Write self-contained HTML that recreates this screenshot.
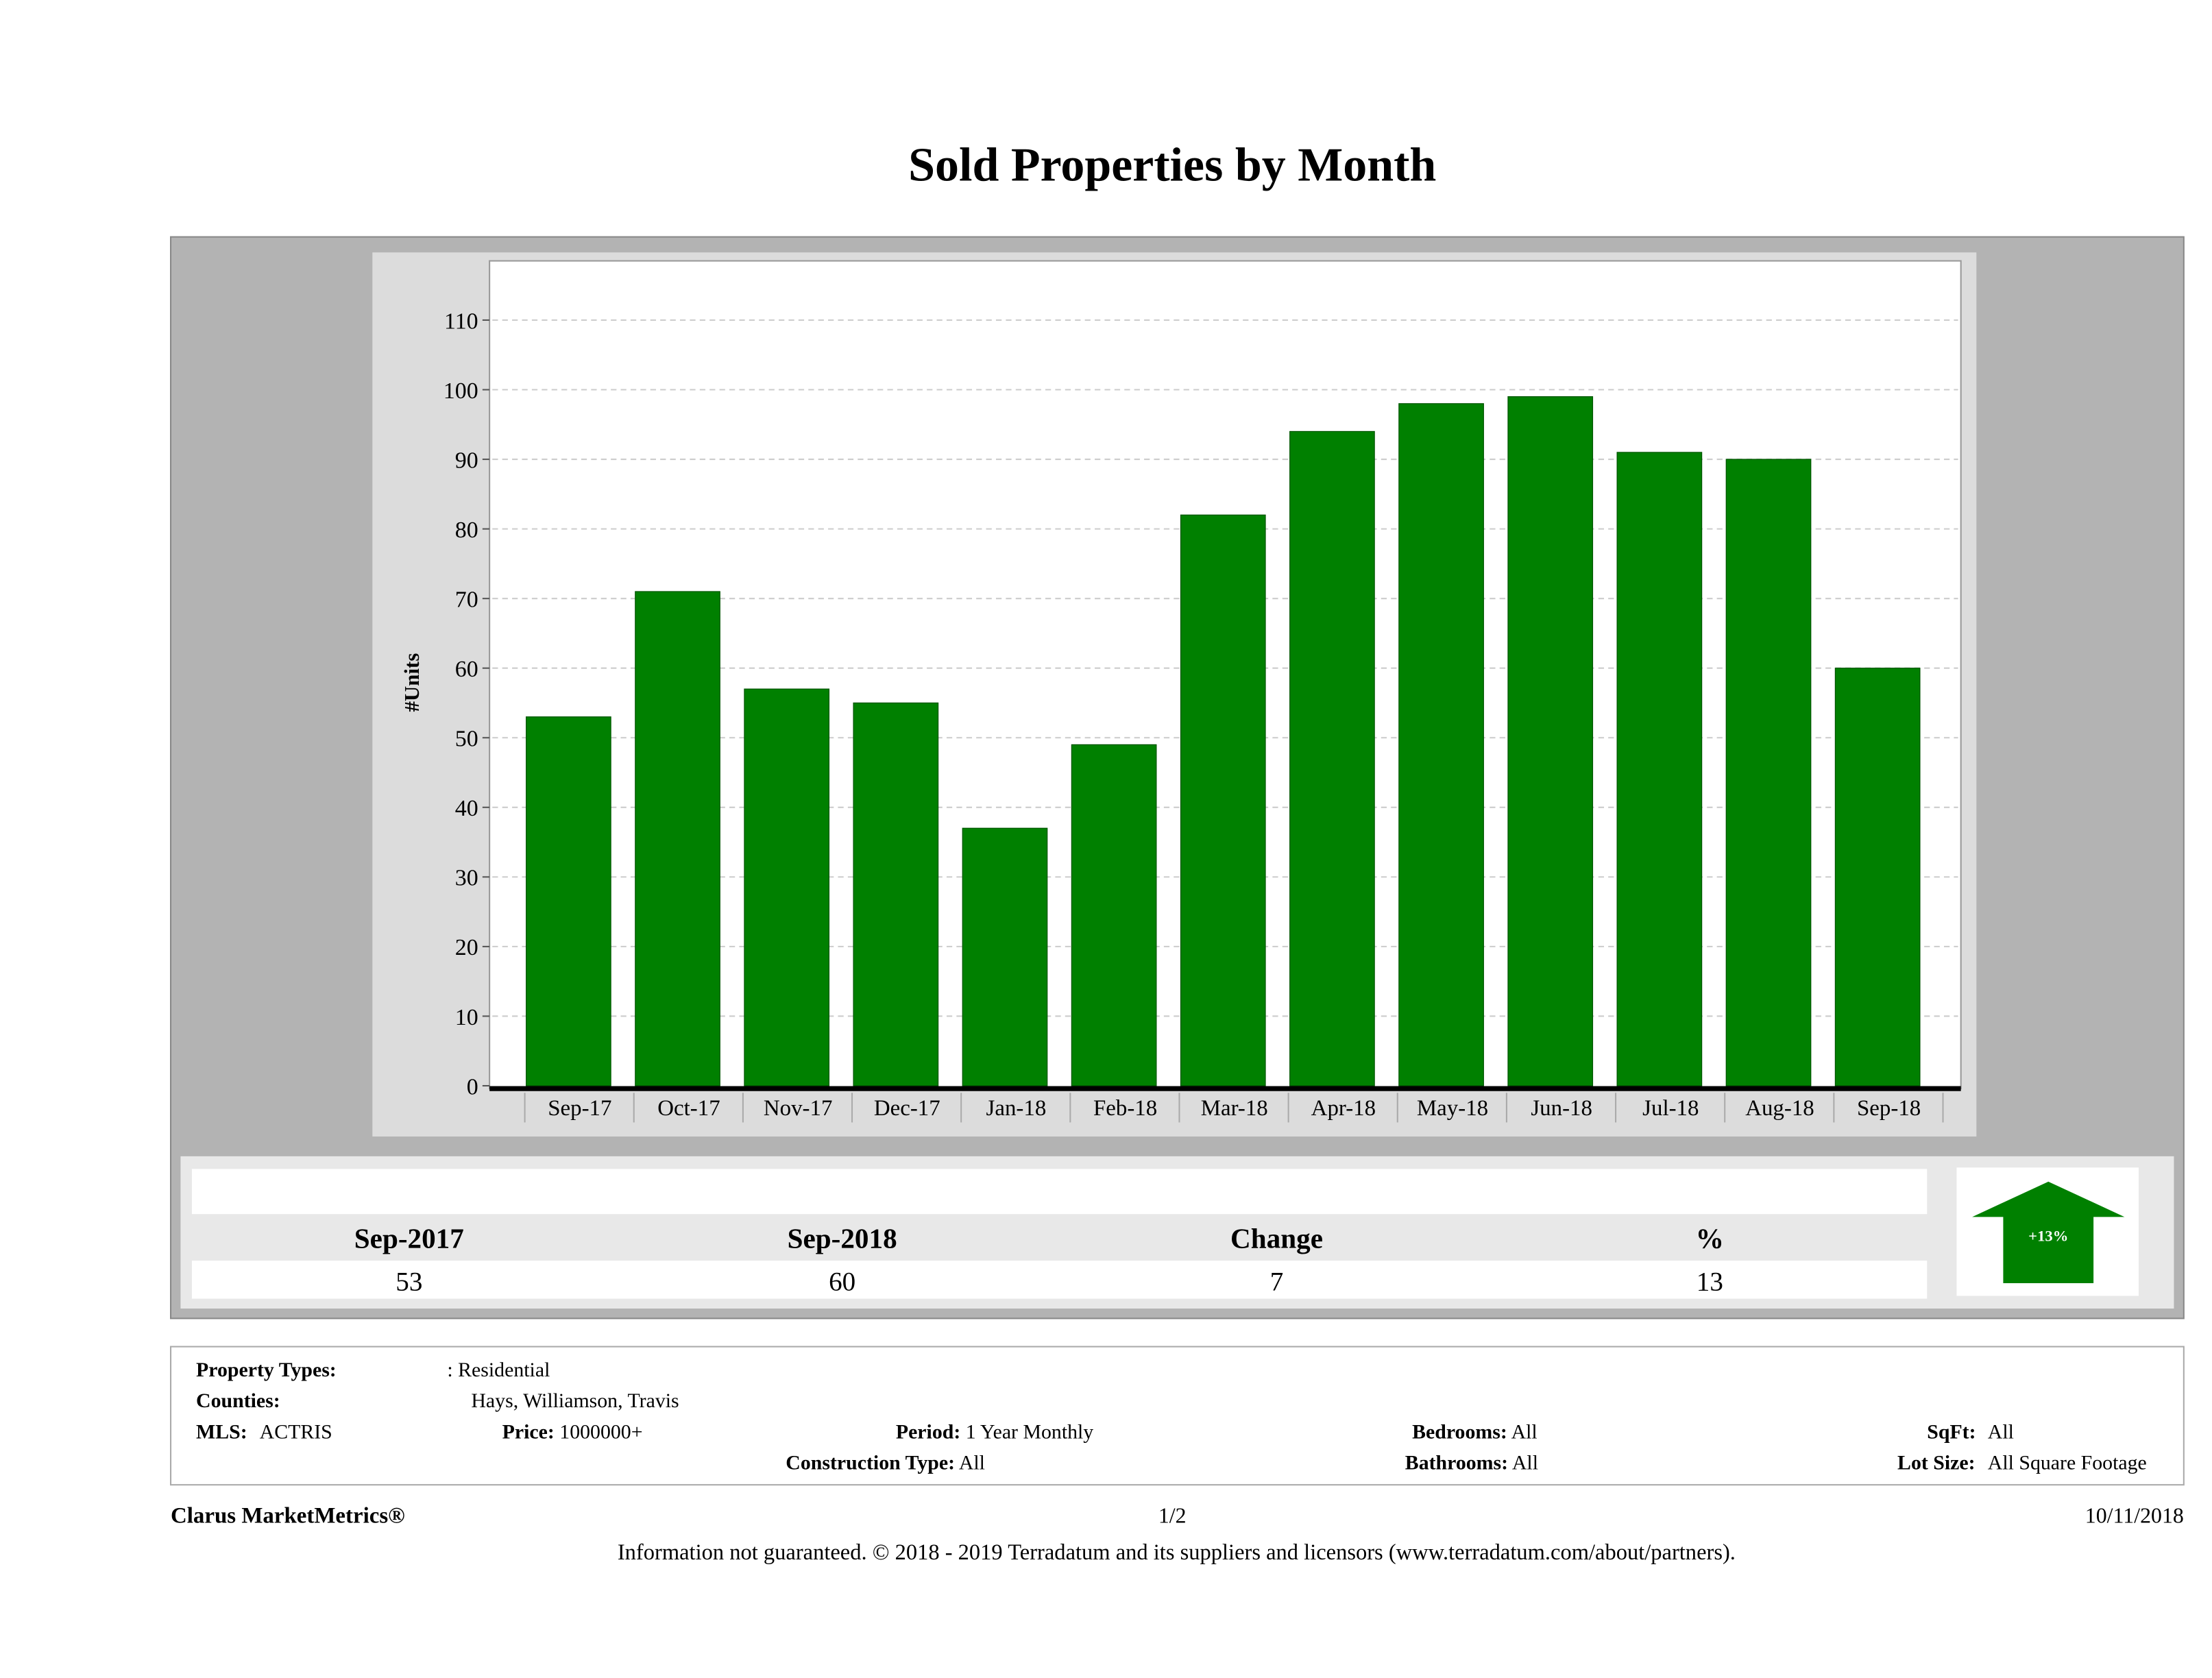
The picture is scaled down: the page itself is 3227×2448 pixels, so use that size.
<!DOCTYPE html>
<html><head><meta charset="utf-8"><style>
html,body{margin:0;padding:0;background:#fff;}
svg{display:block;font-family:"Liberation Serif",serif;}
</style></head><body>
<svg width="3227" height="2448" viewBox="0 0 1568 1190" preserveAspectRatio="none">
<text x="831" y="128" text-anchor="middle" font-size="34" font-weight="bold">Sold Properties by Month</text>
<rect x="121" y="168" width="1427" height="767" fill="#b3b3b3" stroke="#888"/>
<rect x="264" y="179" width="1137" height="627" fill="#dcdcdc"/>
<rect x="347" y="185" width="1043" height="587" fill="#fff" stroke="#999"/>
<g id="grid"></g><g id="bars"></g><g id="xlabels"></g>
<line x1="347" y1="772" x2="1390" y2="772" stroke="#000" stroke-width="3.5"/>
<text transform="translate(297,484) rotate(-90)" text-anchor="middle" font-size="15" font-weight="bold">#Units</text>
<rect x="128" y="820" width="1413" height="108" fill="#e8e8e8"/>
<rect x="136" y="829" width="1230" height="32" fill="#fff"/>
<rect x="136" y="894" width="1230" height="27" fill="#fff"/>
<g font-size="20" font-weight="bold" text-anchor="middle">
<text x="290" y="885">Sep-2017</text>
<text x="597" y="885">Sep-2018</text>
<text x="905" y="885">Change</text>
<text x="1212" y="885">%</text>
</g>
<g font-size="19" text-anchor="middle">
<text x="290" y="915">53</text>
<text x="597" y="915">60</text>
<text x="905" y="915">7</text>
<text x="1212" y="915">13</text>
</g>
<rect x="1387" y="828" width="129" height="91" fill="#fff"/>
<polygon points="1452,838 1506,863 1484,863 1484,910 1420,910 1420,863 1398,863" fill="#008000"/>
<text x="1452" y="880" text-anchor="middle" font-size="11" font-weight="bold" fill="#fff">+13%</text>
<rect x="121" y="955" width="1427" height="98" fill="#fff" stroke="#aaa"/>
<g font-size="14.5">
<text x="139" y="976" font-weight="bold">Property Types:</text>
<text x="317" y="976">: Residential</text>
<text x="139" y="998" font-weight="bold">Counties:</text>
<text x="334" y="998">Hays, Williamson, Travis</text>
<text x="139" y="1020"><tspan font-weight="bold">MLS:</tspan><tspan x="184">ACTRIS</tspan></text>
<text x="356" y="1020"><tspan font-weight="bold">Price:</tspan> 1000000+</text>
<text x="635" y="1020"><tspan font-weight="bold">Period:</tspan> 1 Year Monthly</text>
<text x="557" y="1042"><tspan font-weight="bold">Construction Type:</tspan> All</text>
<text x="1001" y="1020"><tspan font-weight="bold">Bedrooms:</tspan> All</text>
<text x="996" y="1042"><tspan font-weight="bold">Bathrooms:</tspan> All</text>
<text x="1366" y="1020"><tspan font-weight="bold">SqFt:</tspan><tspan x="1409">All</tspan></text>
<text x="1345" y="1042"><tspan font-weight="bold">Lot Size:</tspan><tspan x="1409">All Square Footage</tspan></text>
<text x="121" y="1080" font-size="16" font-weight="bold">Clarus MarketMetrics®</text>
<text x="831" y="1080" text-anchor="middle" font-size="15.5">1/2</text>
<text x="1548" y="1080" text-anchor="end" font-size="15.5">10/11/2018</text>
<text x="834" y="1106" text-anchor="middle" font-size="15.8">Information not guaranteed. © 2018 - 2019 Terradatum and its suppliers and licensors (www.terradatum.com/about/partners).</text>
</g>
</svg>
<script>
const categories=["Sep-17","Oct-17","Nov-17","Dec-17","Jan-18","Feb-18","Mar-18","Apr-18","May-18","Jun-18","Jul-18","Aug-18","Sep-18"];
const soldUnits=[53,71,57,55,37,49,82,94,98,99,91,90,60];
const yTicks=[0,10,20,30,40,50,60,70,80,90,100,110];
const NS="http://www.w3.org/2000/svg";
function yScale(v){return 770-v*(543/110);}
function xCenter(i){return 403+i*77.33;}
const grid=document.getElementById('grid'),bars=document.getElementById('bars'),xl=document.getElementById('xlabels');
yTicks.forEach(t=>{
  const y=yScale(t);
  if(t>0){const l=document.createElementNS(NS,'line');
  l.setAttribute('x1',349);l.setAttribute('x2',1388);l.setAttribute('y1',y);l.setAttribute('y2',y);
  l.setAttribute('stroke','#ccc');l.setAttribute('stroke-dasharray','4,3');
  
  
  grid.appendChild(l);}
  const tk=document.createElementNS(NS,'line');
  tk.setAttribute('x1',342);tk.setAttribute('x2',347);tk.setAttribute('y1',y);tk.setAttribute('y2',y);tk.setAttribute('stroke','#555');
  
  
  grid.appendChild(tk);
  const tx=document.createElementNS(NS,'text');
  tx.setAttribute('x',339);tx.setAttribute('y',y+6);tx.setAttribute('text-anchor','end');tx.setAttribute('font-size','16.5');
  tx.textContent=t;
  
  
  grid.appendChild(tx);
});
categories.forEach((c,i)=>{
  const cx=xCenter(i),v=soldUnits[i];
  const r=document.createElementNS(NS,'rect');
  r.setAttribute('x',cx-30);r.setAttribute('width',60);r.setAttribute('y',yScale(v));r.setAttribute('height',yScale(0)-yScale(v));
  r.setAttribute('fill','#008000');r.setAttribute('stroke','#005500');r.setAttribute('stroke-width','0.6');
  
  
  bars.appendChild(r);
  const sep=document.createElementNS(NS,'line');
  sep.setAttribute('x1',cx-31);sep.setAttribute('x2',cx-31);sep.setAttribute('y1',775);sep.setAttribute('y2',796);sep.setAttribute('stroke','#aaa');
  
  
  xl.appendChild(sep);
  const t=document.createElementNS(NS,'text');
  t.setAttribute('x',cx+8);t.setAttribute('y',791);t.setAttribute('text-anchor','middle');t.setAttribute('font-size','16');
  t.textContent=c;
  
  
  xl.appendChild(t);
});
const last=document.createElementNS(NS,'line');
last.setAttribute('x1',xCenter(13)-31);last.setAttribute('x2',xCenter(13)-31);last.setAttribute('y1',775);last.setAttribute('y2',796);last.setAttribute('stroke','#aaa');


xl.appendChild(last);
</script>
</body></html>
